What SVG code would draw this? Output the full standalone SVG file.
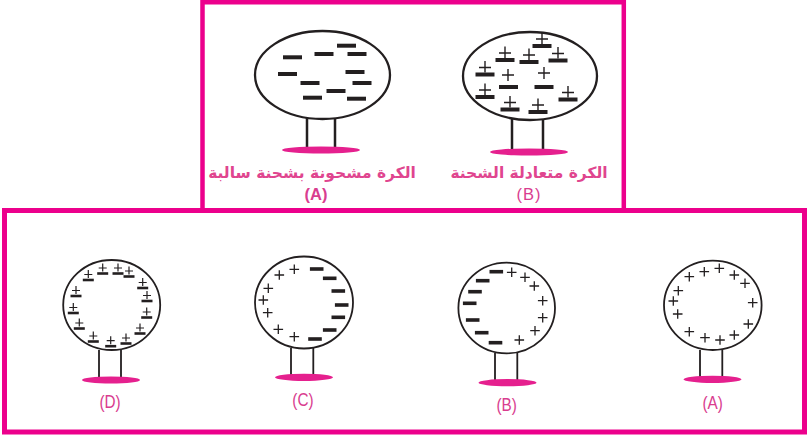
<svg xmlns="http://www.w3.org/2000/svg" xmlns:xlink="http://www.w3.org/1999/xlink" width="807" height="437" viewBox="0 0 807 437">
  <style>
    .frame { fill: none; stroke: #ec008c; }
    .ball { fill: #fff; stroke: #231f20; stroke-width: 1.8; }
    .ballL { fill: #fff; stroke: #231f20; stroke-width: 2.3; }
    .leg { stroke: #231f20; stroke-width: 1.8; fill: none; }
    .legL { stroke: #231f20; stroke-width: 2.5; fill: none; }
    .base { fill: #e5208e; }
    .lbl { fill: #d93d8f; font-family: "Liberation Sans", "DejaVu Sans", sans-serif; text-anchor: middle; }
    .ar { fill: #e0458f; font-family: "DejaVu Sans", "Noto Sans", sans-serif; font-weight: bold; text-anchor: middle; }
    .ink { stroke: #231f20; fill: none; stroke-linecap: butt; }
  </style>
  <defs>
    <!-- large charges (top row) -->
    <path id="negL" class="ink" stroke-width="4" d="M-9.5,0H9.5"/>
    <path id="posL" class="ink" stroke-width="1.4" d="M-6,0H6M0,-6V6"/>
    <g id="pmL">
      <path class="ink" stroke-width="1.4" d="M-6,0H6M0,-6.5V5"/>
      <path class="ink" stroke-width="4" d="M-9.5,7H9.5"/>
    </g>
    <!-- small charges (bottom row) -->
    <path id="negS" class="ink" stroke-width="3.6" d="M-6.8,0H6.8"/>
    <path id="posS" class="ink" stroke-width="1.3" d="M-4.8,0H4.8M0,-4.8V4.8"/>
    <g id="pmS">
      <path class="ink" stroke-width="1.2" d="M-4,0H4M0,-4.5V3.5"/>
      <path class="ink" stroke-width="2.6" d="M-5.5,5.5H5.5"/>
    </g>
  </defs>

  <!-- panel frames -->
  <g id="frames">
    <path class="frame" stroke-width="4.5" d="M202.5,210.5V2.2H623.8V210.5"/>
    <rect class="frame" stroke-width="5" x="4.5" y="210.5" width="800" height="221.5"/>
  </g>

  <!-- top panel: negatively charged sphere -->
  <g id="sphere-top-A">
    <path class="legL" d="M307,117V148M335,117V148"/>
    <ellipse class="base" cx="321" cy="150" rx="39" ry="3.6"/>
    <ellipse class="ballL" cx="322.5" cy="75" rx="67.5" ry="44"/>
    <use href="#negL" x="292.5" y="57.3"/>
    <use href="#negL" x="324" y="54"/>
    <use href="#negL" x="346.5" y="45.7"/>
    <use href="#negL" x="357" y="54"/>
    <use href="#negL" x="287.5" y="74"/>
    <use href="#negL" x="355" y="72"/>
    <use href="#negL" x="310" y="83"/>
    <use href="#negL" x="362" y="83"/>
    <use href="#negL" x="336" y="91"/>
    <use href="#negL" x="312.5" y="97.7"/>
    <use href="#negL" x="356.5" y="98.7"/>
    <text class="ar" x="312" y="178" font-size="15.5">الكرة مشحونة بشحنة سالبة</text>
    <text class="lbl" x="316" y="200" font-size="16.5" font-weight="bold">(A)</text>
  </g>

  <!-- top panel: neutral sphere -->
  <g id="sphere-top-B">
    <path class="legL" d="M512,119V150M543,119V150"/>
    <ellipse class="base" cx="529" cy="152" rx="39" ry="3.6"/>
    <ellipse class="ballL" cx="530" cy="76" rx="67" ry="44"/>
    <use href="#pmL" x="542" y="39"/>
    <use href="#pmL" x="505" y="53"/>
    <use href="#pmL" x="529" y="55"/>
    <use href="#pmL" x="558" y="53.5"/>
    <use href="#pmL" x="485" y="67.5"/>
    <use href="#posL" x="508" y="75"/>
    <use href="#posL" x="544" y="73"/>
    <use href="#negL" x="508.5" y="87"/>
    <use href="#negL" x="544" y="87"/>
    <use href="#pmL" x="485" y="90"/>
    <use href="#pmL" x="568" y="92.5"/>
    <use href="#pmL" x="510" y="102.5"/>
    <use href="#pmL" x="538" y="105"/>
    <text class="ar" x="529" y="178" font-size="15.5">الكرة متعادلة  الشحنة</text>
    <text class="lbl" x="529" y="200" font-size="16.5" letter-spacing="1">(B)</text>
  </g>

  <!-- bottom panel: surface charge in neutral pairs -->
  <g id="sphere-D">
    <path class="leg" d="M99,350V377M121,350V377"/>
    <ellipse class="base" cx="111" cy="380" rx="29" ry="3.6"/>
    <ellipse class="ball" cx="111.7" cy="305" rx="48.5" ry="45"/>
    <use href="#pmS" x="88.3" y="274.5"/>
    <use href="#pmS" x="102.7" y="268"/>
    <use href="#pmS" x="118" y="268"/>
    <use href="#pmS" x="129" y="271"/>
    <use href="#pmS" x="142.7" y="282.5"/>
    <use href="#pmS" x="147" y="295.5"/>
    <use href="#pmS" x="146.7" y="312"/>
    <use href="#pmS" x="140" y="328"/>
    <use href="#pmS" x="126" y="338"/>
    <use href="#pmS" x="110.7" y="340.7"/>
    <use href="#pmS" x="93.3" y="336"/>
    <use href="#pmS" x="79.3" y="323"/>
    <use href="#pmS" x="73.3" y="307.5"/>
    <use href="#pmS" x="76" y="290.5"/>
    <text class="lbl" x="110" y="408" font-size="18" transform="translate(110 0) scale(0.85 1) translate(-110 0)">(D)</text>
  </g>

  <!-- bottom panel: positive left, negative right -->
  <g id="sphere-C">
    <path class="leg" d="M291,348V375M313.3,348V375"/>
    <ellipse class="base" cx="304" cy="377.3" rx="29" ry="3.6"/>
    <ellipse class="ball" cx="304" cy="302.5" rx="49" ry="46"/>
    <use href="#posS" x="279.3" y="275"/>
    <use href="#posS" x="294.3" y="269.3"/>
    <use href="#posS" x="268.3" y="288.3"/>
    <use href="#posS" x="263.3" y="300"/>
    <use href="#posS" x="267.7" y="312.7"/>
    <use href="#posS" x="278.3" y="329.3"/>
    <use href="#posS" x="294.3" y="336.7"/>
    <use href="#negS" x="316.7" y="269"/>
    <use href="#negS" x="329.7" y="278.3"/>
    <use href="#negS" x="338.3" y="291"/>
    <use href="#negS" x="341.7" y="305"/>
    <use href="#negS" x="338.3" y="317.3"/>
    <use href="#negS" x="329.7" y="330"/>
    <use href="#negS" x="315" y="339"/>
    <text class="lbl" x="303" y="406.5" font-size="18" transform="translate(303 0) scale(0.85 1) translate(-303 0)">(C)</text>
  </g>

  <!-- bottom panel: negative left, positive right -->
  <g id="sphere-B">
    <path class="leg" d="M495,353V381.7M517.3,353V381.7"/>
    <ellipse class="base" cx="507.5" cy="382.7" rx="29" ry="3.6"/>
    <ellipse class="ball" cx="506.7" cy="308" rx="48.3" ry="45.3"/>
    <use href="#negS" x="496.3" y="271.7"/>
    <use href="#negS" x="482.7" y="280.7"/>
    <use href="#negS" x="475" y="291.7"/>
    <use href="#negS" x="469.7" y="303.3"/>
    <use href="#negS" x="472.7" y="320"/>
    <use href="#negS" x="481.7" y="332.7"/>
    <use href="#negS" x="495.5" y="342.7"/>
    <use href="#posS" x="511.7" y="272.3"/>
    <use href="#posS" x="525" y="277.3"/>
    <use href="#posS" x="534.3" y="286"/>
    <use href="#posS" x="542.7" y="300.7"/>
    <use href="#posS" x="542.7" y="317.7"/>
    <use href="#posS" x="535" y="330.7"/>
    <use href="#posS" x="519.3" y="340"/>
    <text class="lbl" x="506.7" y="411.5" font-size="18" transform="translate(506.7 0) scale(0.85 1) translate(-506.7 0)">(B)</text>
  </g>

  <!-- bottom panel: positive over the whole surface -->
  <g id="sphere-A">
    <path class="leg" d="M700,350V377.3M722.3,350V377.3"/>
    <ellipse class="base" cx="712.5" cy="379.3" rx="29" ry="3.6"/>
    <ellipse class="ball" cx="712.8" cy="305.3" rx="48.8" ry="44.7"/>
    <use href="#posS" x="689.3" y="276.7"/>
    <use href="#posS" x="704.3" y="271.7"/>
    <use href="#posS" x="719.3" y="268.3"/>
    <use href="#posS" x="734.3" y="275"/>
    <use href="#posS" x="745" y="283.3"/>
    <use href="#posS" x="752.7" y="302.7"/>
    <use href="#posS" x="748.3" y="324"/>
    <use href="#posS" x="734.3" y="335"/>
    <use href="#posS" x="720" y="340"/>
    <use href="#posS" x="705" y="337.7"/>
    <use href="#posS" x="689.3" y="331.7"/>
    <use href="#posS" x="677.7" y="314"/>
    <use href="#posS" x="673.3" y="301"/>
    <use href="#posS" x="678.3" y="290.7"/>
    <text class="lbl" x="712.7" y="409.5" font-size="18" transform="translate(712.7 0) scale(0.85 1) translate(-712.7 0)">(A)</text>
  </g>
</svg>
